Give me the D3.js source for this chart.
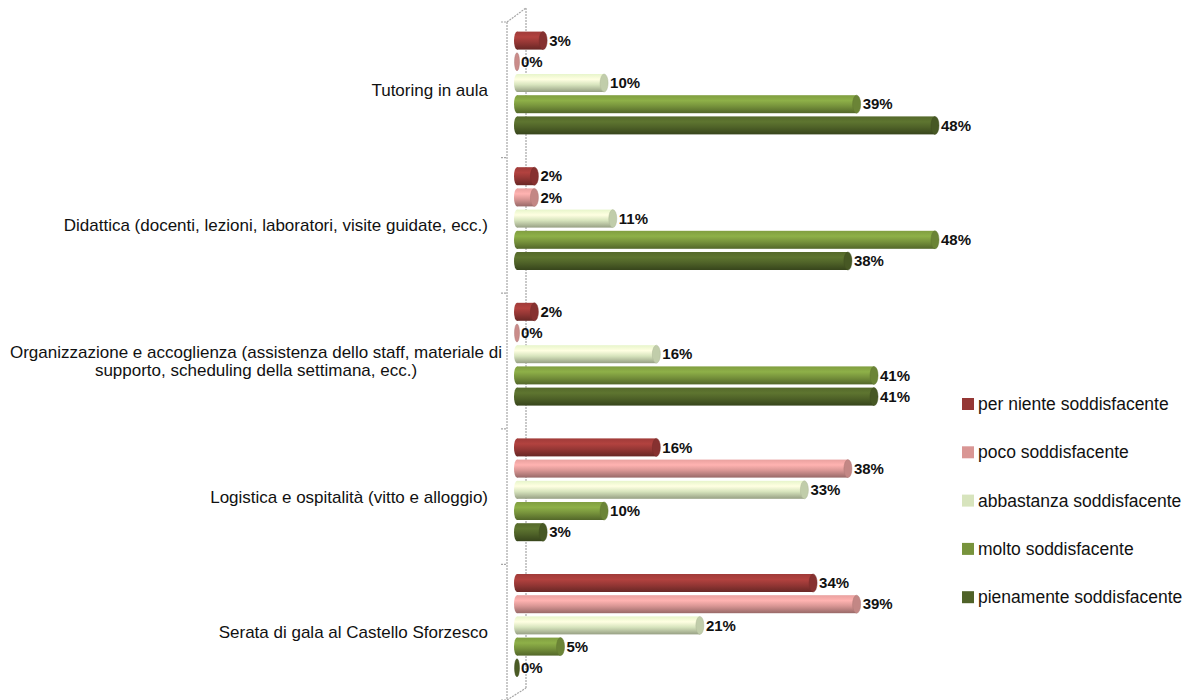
<!DOCTYPE html>
<html>
<head>
<meta charset="utf-8">
<script src="https://cdn.jsdelivr.net/npm/d3@7"></script>
<style>
  body { margin: 0; background: #fff; }
  svg { display: block; }
  text { font-family: "Liberation Sans", Arial, sans-serif; fill: #111; }
</style>
</head>
<body>
<div id="chart"></div>
<script>
// categories (wrapped labels as lines)
let categories = [
  'Tutoring in aula',
  'Didattica (docenti, lezioni, laboratori, visite guidate, ecc.)',
  'Organizzazione e accoglienza (assistenza dello staff, materiale di supporto, scheduling della settimana, ecc.)',
  'Logistica e ospitalità (vitto e alloggio)',
  'Serata di gala al Castello Sforzesco'
]
let categoryLines = [
  ['Tutoring in aula'],
  ['Didattica (docenti, lezioni, laboratori, visite guidate, ecc.)'],
  ['Organizzazione e accoglienza (assistenza dello staff, materiale di', 'supporto, scheduling della settimana, ecc.)'],
  ['Logistica e ospitalità (vitto e alloggio)'],
  ['Serata di gala al Castello Sforzesco']
]
let series = ['per niente soddisfacente', 'poco soddisfacente', 'abbastanza soddisfacente', 'molto soddisfacente', 'pienamente soddisfacente']
let colors = ['#953735', '#d99694', '#d7e4bd', '#77933c', '#4f6228']

let perNiente  = [3, 2, 2, 16, 34]
let poco       = [0, 2, 0, 38, 39]
let abbastanza = [10, 11, 16, 33, 21]
let molto      = [39, 48, 41, 10, 5]
let pienamente = [48, 38, 41, 3, 0]
let values = [perNiente, poco, abbastanza, molto, pienamente]

let width = 1200
let height = 700

let svg = d3.select('#chart').append('svg')
  .attr('width', width)
  .attr('height', height)

let x = d3.scaleLinear().domain([0, 48]).range([517, 935])
let y0 = d3.scaleBand().domain(categories).range([22, 700])
let y1 = d3.scaleBand().domain(series).range([8, 114])
let barH = 18

// gradients for the cylinder look
let defs = svg.append('defs')
series.forEach((s, i) => {
  let c = d3.color(colors[i])
  let g = defs.append('linearGradient')
    .attr('id', 'grad' + i)
    .attr('x1', 0).attr('y1', 0).attr('x2', 0).attr('y2', 1)
  g.append('stop').attr('offset', '0%').attr('stop-color', c.brighter(0.2))
  g.append('stop').attr('offset', '30%').attr('stop-color', c.brighter(0.5))
  g.append('stop').attr('offset', '60%').attr('stop-color', c)
  g.append('stop').attr('offset', '100%').attr('stop-color', c.darker(1))
})

// 3D axis walls
let axisG = svg.append('g')
  .attr('fill', 'none')
  .attr('stroke', '#a6a6a6')
  .attr('stroke-width', 1.2)
  .attr('stroke-dasharray', '2,1')
axisG.append('line').attr('x1', 507).attr('y1', 22).attr('x2', 507).attr('y2', 700)
axisG.append('line').attr('x1', 526).attr('y1', 8).attr('x2', 526).attr('y2', 688)
axisG.append('line').attr('x1', 507).attr('y1', 22).attr('x2', 526).attr('y2', 8)
axisG.append('line').attr('x1', 507).attr('y1', 700).attr('x2', 526).attr('y2', 688)
let tickYs = categories.map(c => y0(c)).concat([y0.range()[1]])
axisG.selectAll('.tick')
  .data(tickYs)
  .enter().append('line')
  .attr('x1', 501).attr('x2', 507)
  .attr('y1', d => d).attr('y2', d => d)
  .attr('stroke-dasharray', null)

// bars
let groups = svg.selectAll('.cat')
  .data(categories)
  .enter().append('g')
  .attr('transform', d => 'translate(0,' + y0(d) + ')')

groups.each(function (cat, ci) {
  let g = d3.select(this)
  series.forEach((s, si) => {
    let v = values[si][ci]
    let cy = y1(s) + y1.bandwidth() / 2
    let x0 = x(0)
    let x1 = x(v)
    let c = d3.color(colors[si])
    if (v > 0) {
      g.append('rect')
        .attr('x', x0)
        .attr('y', cy - barH / 2)
        .attr('width', x1 - x0)
        .attr('height', barH)
        .attr('fill', 'url(#grad' + si + ')')
      g.append('ellipse')
        .attr('cx', x0)
        .attr('cy', cy)
        .attr('rx', 3)
        .attr('ry', barH / 2)
        .attr('fill', 'url(#grad' + si + ')')
    }
    g.append('ellipse')
      .attr('cx', x1)
      .attr('cy', cy)
      .attr('rx', v > 0 ? 4 : 2.5)
      .attr('ry', barH / 2)
      .attr('fill', v > 0 ? c.darker(0.3) : c.darker(0.2))
      .attr('stroke', c.darker(0.6))
      .attr('stroke-width', 0.5)
    g.append('text')
      .attr('x', x1 + (v > 0 ? 6 : 4))
      .attr('y', cy)
      .attr('dy', '0.35em')
      .style('font-size', '15px')
      .style('font-weight', 'bold')
      .text(v + '%')
  })
})

// category labels
groups.each(function (cat, ci) {
  let lines = categoryLines[ci]
  let mid = y0.bandwidth() / 2
  let lineH = 18
  let t = d3.select(this).append('text')
    .attr('text-anchor', lines.length > 1 ? 'middle' : 'end')
    .style('font-size', '17px')
  lines.forEach((l, li) => {
    t.append('tspan')
      .attr('x', lines.length > 1 ? 256 : 488)
      .attr('y', mid + (li - (lines.length - 1) / 2) * lineH)
      .attr('dy', '0.35em')
      .text(l)
  })
})

// legend
let legend = svg.selectAll('.legend')
  .data(series)
  .enter().append('g')
  .attr('transform', (d, i) => 'translate(962,' + (404 + i * 48.3) + ')')
legend.append('rect')
  .attr('x', 0).attr('y', -6)
  .attr('width', 12).attr('height', 12)
  .attr('fill', (d, i) => colors[i])
legend.append('text')
  .attr('x', 16)
  .attr('dy', '0.35em')
  .style('font-size', '17.5px')
  .text(d => d)
</script>
</body>
</html>
